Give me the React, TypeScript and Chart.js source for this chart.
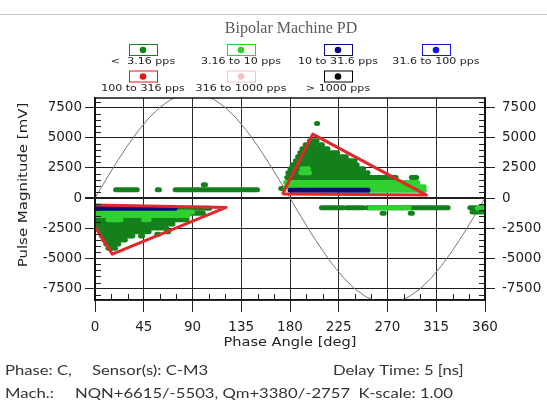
import React, { useEffect, useRef } from 'react';
import { Chart, registerables } from 'chart.js';

Chart.register(...registerables);

const TITLE = 'Bipolar Machine PD';
const X_TITLE = 'Phase Angle [deg]';
const Y_TITLE = 'Pulse Magnitude [mV]';
const X_TICKS = [0, 45, 90, 135, 180, 225, 270, 315, 360];
const Y_TICKS = [-7500, -5000, -2500, 0, 2500, 5000, 7500];
const FOOTER_PHASE = 'Phase: C,';
const FOOTER_SENSOR = 'Sensor(s): C-M3';
const FOOTER_DELAY = 'Delay Time: 5 [ns]';
const FOOTER_MACH = 'Mach.:';
const FOOTER_MACH_VALUES = 'NQN+6615/-5503, Qm+3380/-2757  K-scale: 1.00';

const SERIES_NAMES = ['<  3.16 pps', '3.16 to 10 pps', '10 to 31.6 pps', '31.6 to 100 pps', '100 to 316 pps', '316 to 1000 pps', '> 1000 pps'];
const SERIES_COLORS = ['#14801c', '#2fd02f', '#0b0b80', '#1515e0', '#e01818', '#f5c2c2', '#000000'];

// runs of pulses: [phase from (deg), phase to (deg), magnitude (mV)]
const RUNS_LT_3_16: [number, number, number][] = [
  [19, 39, 690], [57.5, 59.5, 690], [74, 150, 690], [100, 102, 1100],
  [74, 106, -850], [88, 100, -1250], [0, 85, -1800], [0, 72, -2150], [3, 66, -2480], [5, 50, -2800],
  [6, 35, -3150], [8, 28, -3480], [10, 22, -3810], [12, 19, -4150],
  [26, 28, -3150], [42, 44, -3150], [57, 59, -3000], [66, 68, -2800],
  [171.5, 173, 800], [177, 278, 1700], [178, 252, 2100], [180, 248, 2430], [182, 242, 2770],
  [185, 240, 3100], [187, 232, 3430], [189, 224, 3760], [191, 215, 4100], [194, 210, 4430],
  [198, 205, 4760], [204.5, 205.5, 6190], [292, 297, 1700],
  [209, 229, -800], [232, 248, -800], [251, 326, -800], [265, 267, -1250], [291, 293, -1250],
  [346, 360, -800], [348, 360, -1150],
];
const RUNS_3_16_TO_10: [number, number, number][] = [
  [0, 90, -1150], [0, 86, -1450], [12, 24, -1800], [45, 50, -1800],
  [176, 298, 1300], [176, 304, 950], [252, 304, 650], [190, 198, 2100], [191, 197, 2430],
  [254, 290, -800], [353, 357, -850],
];
const RUNS_10_TO_31_6: [number, number, number][] = [
  [0, 74, -850], [180, 252, 650],
];
const RUNS_31_6_TO_100: [number, number, number][] = [];
const RUNS_100_TO_316: [number, number, number][] = [];
const RUNS_316_TO_1000: [number, number, number][] = [];
const RUNS_GT_1000: [number, number, number][] = [];
const SERIES_RUNS = [RUNS_LT_3_16, RUNS_3_16_TO_10, RUNS_10_TO_31_6, RUNS_31_6_TO_100, RUNS_100_TO_316, RUNS_316_TO_1000, RUNS_GT_1000];

// reference voltage curve
const SINE_PHASE = [0, 10, 20, 30, 40, 50, 60, 70, 80, 90, 100, 110, 120, 130, 140, 150, 160, 170, 180, 190, 200, 210, 220, 230, 240, 250, 260, 270, 280, 290, 300, 310, 320, 330, 340, 350, 360];
const SINE_MV = [0, 1511, 2976, 4350, 5592, 6665, 7534, 8175, 8568, 8700, 8568, 8175, 7534, 6665, 5592, 4350, 2976, 1511, 0, -1511, -2976, -4350, -5592, -6665, -7534, -8175, -8568, -8700, -8568, -8175, -7534, -6665, -5592, -4350, -2976, -1511, 0];

// PD pattern envelopes (phase deg, mV)
const TRIANGLE_NEG: [number, number][] = [[-13, -560], [16, -4650], [121, -770], [-13, -560]];
const TRIANGLE_POS: [number, number][] = [[173, 330], [201, 5300], [306, 250], [173, 330]];

const Y_MIN = -8450;
const Y_MAX = 8300;

function drawText(ctx: CanvasRenderingContext2D, text: string, x: number, y: number, font: string, color: string, align: CanvasTextAlign = 'left', sx = 1, rot = 0) {
  ctx.save();
  ctx.translate(x, y);
  if (rot) ctx.rotate(rot);
  ctx.scale(sx, 1);
  ctx.font = font;
  ctx.fillStyle = color;
  ctx.textAlign = align;
  ctx.textBaseline = 'middle';
  ctx.fillText(text, 0, 0);
  ctx.restore();
}

const decorPlugin = {
  id: 'decor',
  beforeDraw(chart: any) {
    const ctx = chart.ctx as CanvasRenderingContext2D;
    ctx.save();
    ctx.fillStyle = '#ffffff';
    ctx.fillRect(0, 0, chart.width, chart.height);
    ctx.strokeStyle = '#c4c4c4';
    ctx.lineWidth = 1;
    ctx.beginPath();
    ctx.moveTo(0, 14.5);
    ctx.lineTo(chart.width, 14.5);
    ctx.stroke();
    ctx.restore();
  },
  afterDraw(chart: any) {
    const ctx = chart.ctx as CanvasRenderingContext2D;
    const { left, right, top, bottom } = chart.chartArea;
    const xs = chart.scales.x;
    const ys = chart.scales.y;
    ctx.save();
    // minor ticks
    ctx.strokeStyle = '#222';
    ctx.lineWidth = 1;
    ctx.beginPath();
    for (let v = -8000; v <= 8000; v += 500) {
      if (v % 2500 === 0) continue;
      const py = Math.round(ys.getPixelForValue(v)) + 0.5;
      ctx.moveTo(left, py); ctx.lineTo(left + 6, py);
      ctx.moveTo(right, py); ctx.lineTo(right - 6, py);
    }
    for (let p = 15; p < 360; p += 15) {
      if (p % 45 === 0) continue;
      const px = Math.round(xs.getPixelForValue(p)) + 0.5;
      ctx.moveTo(px, bottom); ctx.lineTo(px, bottom - 6);
    }
    ctx.stroke();
    // plot frame
    ctx.strokeStyle = '#111';
    ctx.lineWidth = 1.5;
    ctx.strokeRect(left, top, right - left, bottom - top);
    ctx.restore();

    // title
    drawText(ctx, TITLE, 291, 29, '16px "Liberation Serif"', '#5a5a5a', 'center');
    // legend
    const colX = [143, 241, 338, 436];
    const boxY = [49.5, 76];
    const labY = [62, 89];
    SERIES_NAMES.forEach((name, i) => {
      const r = Math.floor(i / 4);
      const c = i % 4;
      const cx = colX[c];
      ctx.save();
      ctx.fillStyle = '#fff';
      ctx.fillRect(cx - 14, boxY[r] - 5.5, 28, 11);
      ctx.strokeStyle = SERIES_COLORS[i];
      ctx.lineWidth = 1;
      ctx.strokeRect(cx - 14 + 0.5, boxY[r] - 5.5 + 0.5, 28, 11);
      ctx.fillStyle = SERIES_COLORS[i];
      ctx.beginPath();
      ctx.arc(cx, boxY[r] + 0.5, 3.3, 0, Math.PI * 2);
      ctx.fill();
      ctx.restore();
      drawText(ctx, name, cx, labY[r], '9px "DejaVu Sans"', '#222', 'center', 1.23);
    });
    // axis titles
    drawText(ctx, X_TITLE, (left + right) / 2, 343, '13px "DejaVu Sans"', '#222', 'center', 1.12);
    drawText(ctx, Y_TITLE, 24, 185, '13px "DejaVu Sans"', '#222', 'center', 1.15, -Math.PI / 2);
    // footer
    const ff = '14px Lato';
    drawText(ctx, FOOTER_PHASE, 5, 370, ff, '#333', 'left', 1.19);
    drawText(ctx, FOOTER_SENSOR, 92, 370, ff, '#333', 'left', 1.19);
    drawText(ctx, FOOTER_DELAY, 333, 370, ff, '#333', 'left', 1.19);
    drawText(ctx, FOOTER_MACH, 5, 393, ff, '#333', 'left', 1.19);
    drawText(ctx, FOOTER_MACH_VALUES, 75, 393, ff, '#333', 'left', 1.19);
  },
};

const plainLabel = (v: any) => String(v);

export default function App() {
  const canvasRef = useRef<HTMLCanvasElement | null>(null);

  useEffect(() => {
    if (!canvasRef.current) return;
    const datasets: any[] = [];
    datasets.push({
      data: SINE_PHASE.map((p, i) => ({ x: p, y: SINE_MV[i] })),
      borderColor: '#777',
      borderWidth: 1,
      pointRadius: 0,
      order: 100,
    });
    SERIES_RUNS.forEach((runs, si) => {
      runs.forEach(([a, b, m]) => {
        datasets.push({
          data: [{ x: a, y: m }, { x: b, y: m }],
          borderColor: SERIES_COLORS[si],
          borderWidth: 5,
          borderCapStyle: 'round',
          pointRadius: 0,
          order: 50 - si,
        });
      });
    });
    [TRIANGLE_NEG, TRIANGLE_POS].forEach((tri) => {
      datasets.push({
        data: tri.map(([x, y]) => ({ x, y })),
        borderColor: '#e3262b',
        borderWidth: 3,
        borderJoinStyle: 'round',
        pointRadius: 0,
        order: 0,
      });
    });

    const tickFont = { family: '"DejaVu Sans"', size: 13.5 };
    const chart = new Chart(canvasRef.current, {
      type: 'line',
      data: { datasets },
      options: {
        animation: false,
        responsive: false,
        devicePixelRatio: 1,
        events: [],
        layout: { padding: { top: 98, bottom: 57, left: 0, right: 0 } },
        plugins: { legend: { display: false }, title: { display: false }, tooltip: { enabled: false } },
        elements: { line: { tension: 0 } },
        scales: {
          x: {
            type: 'linear',
            position: 'bottom',
            min: 0,
            max: 360,
            afterBuildTicks: (s: any) => { s.ticks = X_TICKS.map((v) => ({ value: v })); },
            afterFit: (s: any) => { s.height = 50; },
            ticks: { font: tickFont, color: '#222', padding: 7, maxRotation: 0, autoSkip: false, callback: plainLabel },
            grid: { color: '#2a2a2a', lineWidth: 1, drawTicks: true, tickLength: 12, tickColor: '#222' },
            border: { display: true, color: '#111', width: 1.5 },
          },
          y: {
            type: 'linear',
            position: 'left',
            min: Y_MIN,
            max: Y_MAX,
            afterBuildTicks: (s: any) => { s.ticks = Y_TICKS.map((v) => ({ value: v })); },
            afterFit: (s: any) => { s.width = 95; },
            ticks: { font: tickFont, color: '#222', padding: 3, autoSkip: false, callback: plainLabel },
            grid: {
              color: '#1e1e1e',
              lineWidth: (c: any) => (c.tick && c.tick.value === 0 ? 2 : 1),
              drawTicks: true,
              tickLength: 10,
              tickColor: '#222',
            },
            border: { display: true, color: '#111', width: 1.5 },
          },
          y2: {
            type: 'linear',
            position: 'right',
            min: Y_MIN,
            max: Y_MAX,
            afterBuildTicks: (s: any) => { s.ticks = Y_TICKS.map((v) => ({ value: v })); },
            afterFit: (s: any) => { s.width = 62; },
            ticks: { font: tickFont, color: '#222', padding: 7, autoSkip: false, callback: plainLabel },
            grid: { drawOnChartArea: false, drawTicks: true, tickLength: 10, tickColor: '#222' },
            border: { display: true, color: '#111', width: 1.5 },
          },
        },
      },
      plugins: [decorPlugin],
    } as any);
    return () => chart.destroy();
  }, []);

  return (
    <div style={{ position: 'absolute', left: 0, top: 0, width: 547, height: 407, background: '#fff' }}>
      <canvas ref={canvasRef} width={547} height={407} style={{ display: 'block' }} />
    </div>
  );
}
